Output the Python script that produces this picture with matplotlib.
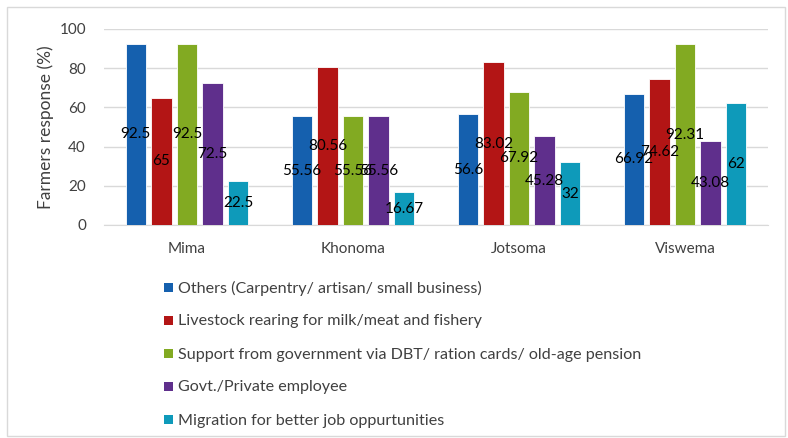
import matplotlib
matplotlib.use("Agg")
import matplotlib.pyplot as plt
from matplotlib.patches import Rectangle
import numpy as np

plt.rcParams['font.family'] = ['Lato', 'DejaVu Sans']

categories = ["Mima", "Khonoma", "Jotsoma", "Viswema"]
series_names = [
    "Others (Carpentry/ artisan/ small business)",
    "Livestock rearing for milk/meat and fishery",
    "Support from government via DBT/ ration cards/ old-age pension",
    "Govt./Private employee",
    "Migration for better job oppurtunities",
]
others = [92.5, 55.56, 56.6, 66.92]
livestock = [65, 80.56, 83.02, 74.62]
support = [92.5, 55.56, 67.92, 92.31]
govt = [72.5, 55.56, 45.28, 43.08]
migration = [22.5, 16.67, 32, 62]
series = [others, livestock, support, govt, migration]
colors = ["#1560AE", "#B31515", "#82AA22", "#5F2F8C", "#0E9ABA"]

W, H = 788, 438
fig = plt.figure(figsize=(W / 100, H / 100), dpi=100)
ax = fig.add_axes([104 / W, (H - 225) / H, (768 - 104) / W, (225 - 29) / H])

x = np.arange(len(categories))
pitch = 0.154
width = 0.122
for i, (vals, c) in enumerate(zip(series, colors)):
    pos = x + (i - 2) * pitch
    ax.bar(pos, vals, width=width, color=c, edgecolor="white", linewidth=0.6, zorder=3)
    for p, v in zip(pos, vals):
        ax.text(p, v / 2, f"{v:g}", ha="center", va="center", fontsize=11, color="black", zorder=4)

ax.set_xlim(-0.5, 3.5)
ax.set_ylim(0, 100)
ax.set_yticks([0, 20, 40, 60, 80, 100])
ax.set_xticks(x)
ax.set_xticklabels(categories)
ax.tick_params(axis="both", length=0, labelsize=11, colors="#404040")
ax.tick_params(axis="y", pad=13)
ax.tick_params(axis="x", pad=12)
ax.grid(axis="y", color="#D9D9D9", linewidth=1, zorder=0)
for s in ["top", "right", "left"]:
    ax.spines[s].set_visible(False)
ax.spines["bottom"].set_color("#D9D9D9")
ax.set_ylabel("Farmers response (%)", fontsize=12.5, color="#404040", labelpad=4)

# legend drawn manually (fig pixel layout)
for i, (name, c) in enumerate(zip(series_names, colors)):
    yc = 287 + 33 * i
    fig.add_artist(Rectangle((164 / W, (H - yc - 4.5) / H), 9 / W, 9 / H,
                             transform=fig.transFigure, facecolor=c, edgecolor="none"))
    fig.text(178 / W, (H - yc) / H, name, ha="left", va="center_baseline",
             fontsize=11.6, color="#404040")

fig.add_artist(Rectangle((7 / W, 2 / H), (W - 10) / W, (H - 9) / H, transform=fig.transFigure,
                         fill=False, edgecolor="#D9D9D9", linewidth=1))

fig.savefig("out.png", dpi=100)
